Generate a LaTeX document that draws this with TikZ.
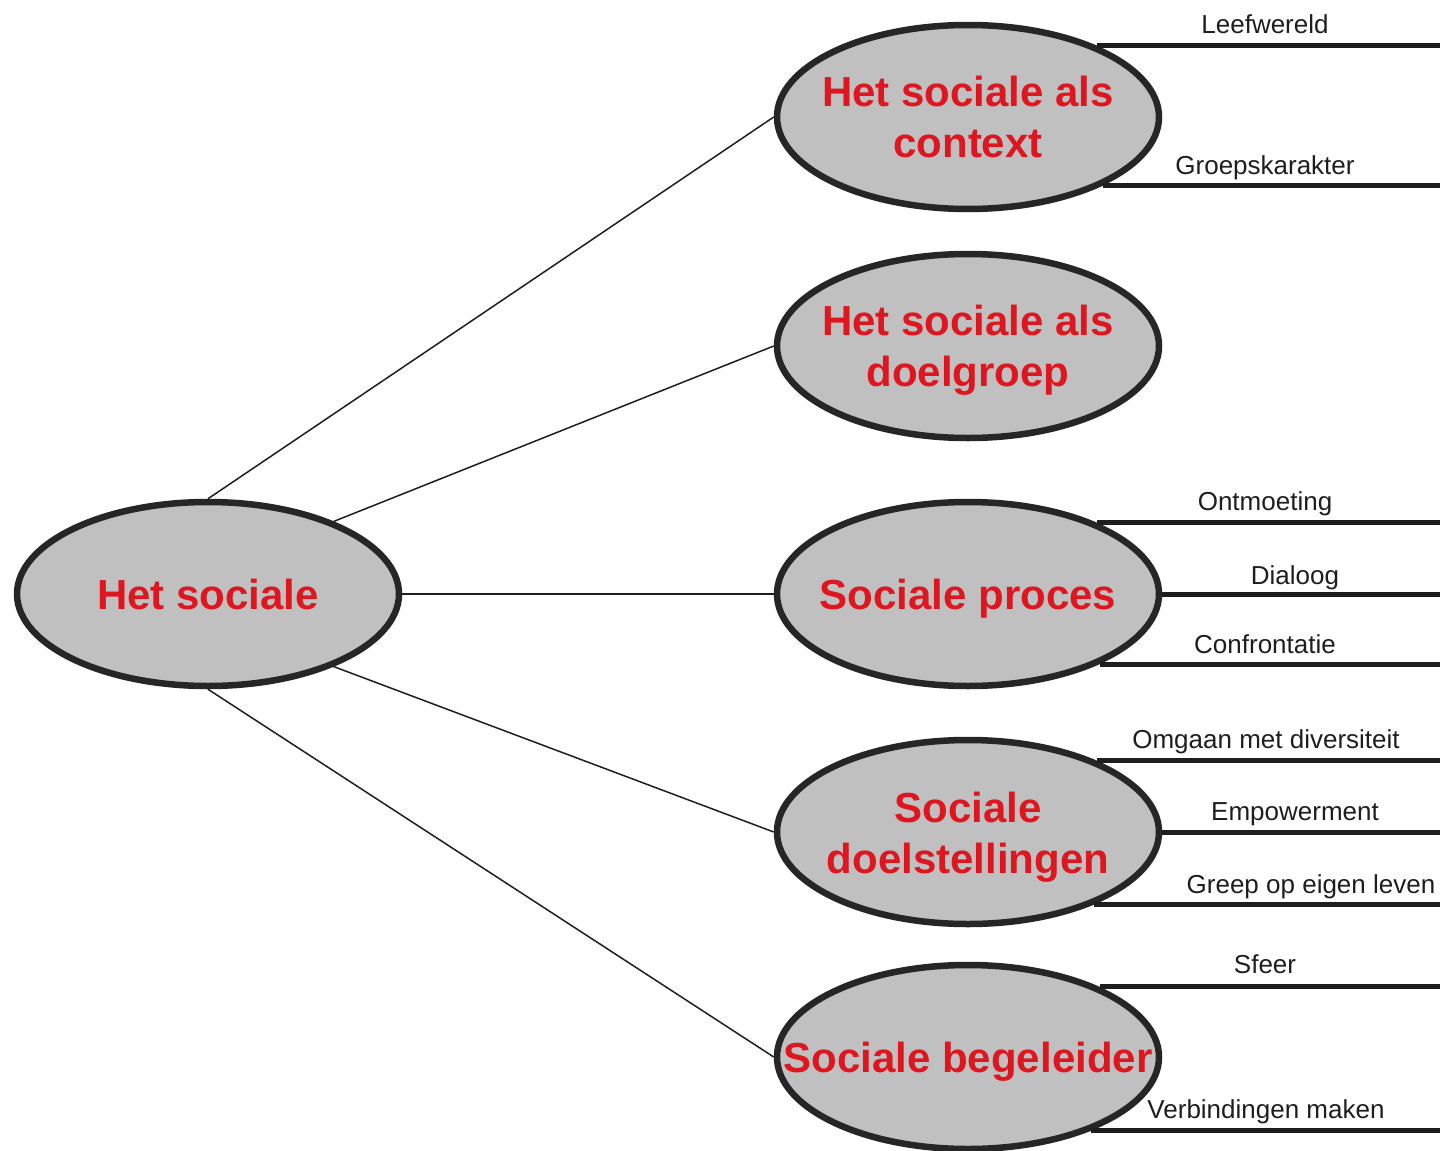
\documentclass[tikz,border=0pt]{standalone}
\usepackage{fontspec}
\setmainfont{Liberation Sans}
\usetikzlibrary{shapes.geometric}
\definecolor{topicred}{RGB}{222,22,32}
\definecolor{bubblegray}{RGB}{192,192,192}
\definecolor{rim}{RGB}{38,38,38}
\definecolor{inkgray}{RGB}{30,30,30}

\begin{document}
\begin{tikzpicture}[x=1pt,y=-1pt,
  bubble/.style={ellipse, draw=rim, fill=bubblegray, line width=6.5pt,
    minimum width=382pt, minimum height=184pt, inner sep=0pt},
  bigtxt/.style={text=topicred, font=\fontsize{42}{51}\selectfont\bfseries,
    align=center, inner sep=0pt, anchor=base},
  spoke/.style={draw=inkgray, line width=1.5pt},
  branch/.style={draw=inkgray, line width=5pt},
  leaf/.style={text=inkgray, font=\fontsize{26}{30}\selectfont,
    inner sep=0pt, anchor=base}]

\useasboundingbox (0,0) rectangle (1443,1151);

% bubbles
\node[bubble] (hs)  at (208,594)  {};
\node[bubble] (ctx) at (968,117)  {};
\node[bubble] (dg)  at (968,346)  {};
\node[bubble] (pr)  at (968,594)  {};
\node[bubble] (ds)  at (968,832)  {};
\node[bubble] (bg)  at (968,1057) {};

% spokes from the central bubble
\draw[spoke] (hs.north) -- (ctx.west);
\draw[spoke] (hs.30)    -- (dg.west);
\draw[spoke] (hs.east)  -- (pr.west);
\draw[spoke] (hs.-30)   -- (ds.west);
\draw[spoke] (hs.south) -- (bg.west);

% bubble titles (base = baseline of the last line)
\node[bigtxt, yshift=-15pt] (hsT)  at (hs.center)  {Het sociale};
\node[bigtxt, yshift=-40pt] (ctxT) at (ctx.center) {Het sociale als\\context};
\node[bigtxt, yshift=-40pt] (dgT)  at (dg.center)  {Het sociale als\\doelgroep};
\node[bigtxt, yshift=-15pt] (prT)  at (pr.center)  {Sociale proces};
\node[bigtxt, yshift=-41pt] (dsT)  at (ds.center)  {Sociale\\doelstellingen};
\node[bigtxt, yshift=-15pt] (bgT)  at (bg.center)  {Sociale begeleider};

% branches to the right edge
\coordinate (edge) at (1440,0);
\draw[branch] (ctx.29)   -- (ctx.29 -| edge);
\draw[branch] (ctx.-27)  -- (ctx.-27 -| edge);
\draw[branch] (pr.29.6)  -- (pr.29.6 -| edge);
\draw[branch] (pr.east)  -- (pr.east -| edge);
\draw[branch] (pr.-28.9) -- (pr.-28.9 -| edge);
\draw[branch] (ds.29.6)  -- (ds.29.6 -| edge);
\draw[branch] (ds.east)  -- (ds.east -| edge);
\draw[branch] (ds.-30.4) -- (ds.-30.4 -| edge);
\draw[branch] (bg.28.9)  -- (bg.28.9 -| edge);
\draw[branch] (bg.-31.3) -- (bg.-31.3 -| edge);

% branch labels
\node[leaf] (l1)  at (1265,34)   {Leefwereld};
\node[leaf] (l2)  at (1265,174)  {Groepskarakter};
\node[leaf] (l3)  at (1265,510)  {Ontmoeting};
\node[leaf] (l4)  at (1295,584)  {Dialoog};
\node[leaf] (l5)  at (1265,653)  {Confrontatie};
\node[leaf] (l6)  at (1266,748)  {Omgaan met diversiteit};
\node[leaf] (l7)  at (1295,820)  {Empowerment};
\node[leaf] (l8)  at (1311,893)  {Greep op eigen leven};
\node[leaf] (l9)  at (1265,973)  {Sfeer};
\node[leaf] (l10) at (1266,1118) {Verbindingen maken};
\end{tikzpicture}
\end{document}
